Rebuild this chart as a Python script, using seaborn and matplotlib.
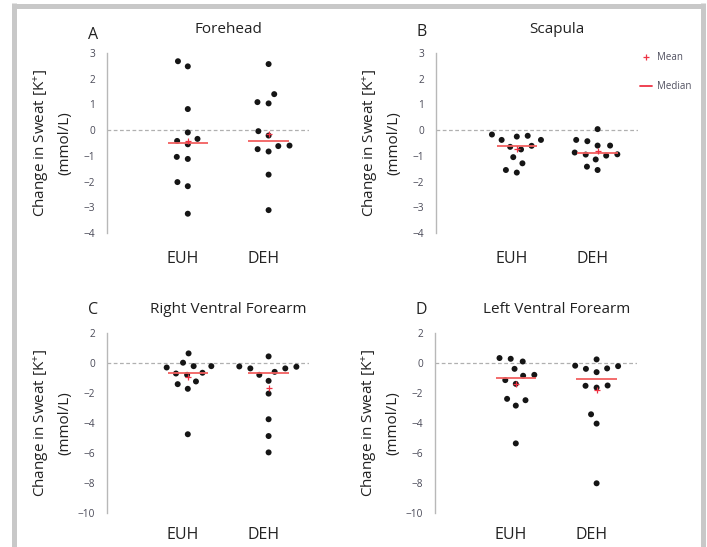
import numpy as np
import pandas as pd
import matplotlib
matplotlib.use("Agg")
import matplotlib.pyplot as plt
import seaborn as sns
from matplotlib.lines import Line2D
from matplotlib.transforms import ScaledTranslation

# change in sweat [K+] (mmol/L)
groups = ["EUH", "DEH"]

forehead_euh = [2.68, 2.48, 0.82, -0.09, -0.42, -0.34, -0.55, -1.04, -1.12, -2.02, -2.18, -3.25]
forehead_deh = [2.57, 1.40, 1.09, 1.04, -0.04, -0.21, -0.60, -0.62, -0.74, -0.83, -1.73, -3.11]

scapula_euh = [-0.22, -0.17, -0.25, -0.38, -0.38, -0.61, -0.65, -0.75, -1.05, -1.29, -1.55, -1.65]
scapula_deh = [0.04, -0.38, -0.43, -0.60, -0.60, -0.94, -0.99, -0.95, -0.87, -1.14, -1.42, -1.55]

rvf_euh = [0.64, 0.02, -0.21, -0.21, -0.30, -0.65, -0.70, -0.79, -1.23, -1.41, -1.72, -4.75]
rvf_deh = [0.44, -0.23, -0.25, -0.36, -0.36, -0.59, -0.79, -1.19, -2.04, -3.75, -4.87, -5.96]

lvf_euh = [0.28, 0.33, 0.10, -0.39, -0.79, -0.85, -1.14, -1.39, -2.39, -2.48, -2.84, -5.36]
lvf_deh = [0.24, -0.21, -0.18, -0.39, -0.36, -0.61, -1.52, -1.64, -1.50, -3.42, -4.04, -8.02]

panels = [
    ("A", "Forehead", forehead_euh, forehead_deh, [-4, -3, -2, -1, 0, 1, 2, 3]),
    ("B", "Scapula", scapula_euh, scapula_deh, [-4, -3, -2, -1, 0, 1, 2, 3]),
    ("C", "Right Ventral Forearm", rvf_euh, rvf_deh, [-10, -8, -6, -4, -2, 0, 2]),
    ("D", "Left Ventral Forearm", lvf_euh, lvf_deh, [-10, -8, -6, -4, -2, 0, 2]),
]

sns.set_style("white")
plt.rcParams["font.family"] = ["Open Sans", "DejaVu Sans"]
plt.rcParams["mathtext.fontset"] = "custom"
plt.rcParams["mathtext.rm"] = "Open Sans"
plt.rcParams["mathtext.it"] = "Open Sans:italic"

red = "#ee3344"
med_red = "#f26060"
text_col = "#222222"

fig = plt.figure(figsize=(7.07, 5.47), dpi=100)

W, H = 707, 547
lefts = [107, 436, 107, 435]
tops = [53, 53, 333, 333]
letter_dy = [0.10, 0.13, 0.15, 0.15]
ax_w, ax_h = 202, 180

for i, (letter, title, euh, deh, yticks) in enumerate(panels):
    ax = fig.add_axes([lefts[i] / W, 1 - (tops[i] + ax_h) / H, ax_w / W, ax_h / H])
    df = pd.DataFrame({
        "group": ["EUH"] * len(euh) + ["DEH"] * len(deh),
        "value": euh + deh,
    })
    sns.swarmplot(data=df, x="group", y="value", order=groups, ax=ax,
                  color="#151515", size=4.3, linewidth=3.4, edgecolor="none", zorder=2)

    for j, vals in enumerate([euh, deh]):
        ax.hlines(np.median(vals), j - 0.25, j + 0.25, color=med_red, lw=1.3, zorder=3)
        ax.plot(j, np.mean(vals), marker="+", color=red, ms=5, mew=0.9, zorder=4)

    ax.axhline(0, color="#b0b0b0", lw=0.9, ls=(0, (3, 2)), zorder=1)

    ax.set_xlim(-1.0, 1.5)
    ax.set_ylim(yticks[0], yticks[-1])
    ax.set_yticks(yticks)
    ax.set_xlabel("")
    ax.set_ylabel("Change in Sweat [K$^{+}$]\n(mmol/L)", fontsize=11, color=text_col,
                  linespacing=1.6)
    ax.yaxis.set_label_coords(-0.17, 0.5)

    for s in ["top", "right", "bottom"]:
        ax.spines[s].set_visible(False)
    ax.spines["left"].set_color("#b8b8b8")
    ax.spines["left"].set_linewidth(1)

    ax.tick_params(axis="y", direction="inout", length=7, width=1, color="#b8b8b8",
                   labelsize=7.3, labelcolor="#4a4a58", pad=5)
    ax.tick_params(axis="x", length=0, labelsize=11.5, labelcolor=text_col,
                   pad=13 if i < 2 else 10)
    for lbl in ax.get_xticklabels():
        lbl.set_transform(lbl.get_transform() + ScaledTranslation(-0.05, 0, fig.dpi_scale_trans))

    ax.text(0.5, 1.0, title, ha="center", va="bottom", fontsize=11, color=text_col,
            transform=ax.get_xaxis_transform() + ScaledTranslation(0, 0.16, fig.dpi_scale_trans))
    ax.text(-0.07, 1.0, letter, ha="center", va="bottom", fontsize=11.5, color=text_col,
            transform=ax.transAxes + ScaledTranslation(0, letter_dy[i], fig.dpi_scale_trans))

    if letter == "B":
        handles = [Line2D([], [], marker="+", ls="none", color=red, ms=5, mew=0.9),
                   Line2D([], [], color=red, lw=1.3)]
        leg = ax.legend(handles, ["Mean", "Median"], loc="upper left",
                        bbox_to_anchor=(640 / W, 1 - 52 / H), bbox_transform=fig.transFigure,
                        frameon=False, fontsize=7, handlelength=1.25, handletextpad=0.5,
                        labelspacing=1.85, borderpad=0, borderaxespad=0)
        for t in leg.get_texts():
            t.set_color("#505060")

# light grey frame around the figure
frame_kw = dict(color="#c8c8c8", lw=3.6, transform=fig.transFigure, solid_capstyle="butt")
fig.add_artist(Line2D([13.5 / W, 13.5 / W], [0, 1 - 3 / H], **frame_kw))
fig.add_artist(Line2D([13.5 / W - 0.0025, 703 / W + 0.0025], [1 - 5.5 / H, 1 - 5.5 / H], **frame_kw))
fig.add_artist(Line2D([703 / W, 703 / W], [0, 1 - 3 / H], **frame_kw))

fig.savefig("out.png", dpi=100)
